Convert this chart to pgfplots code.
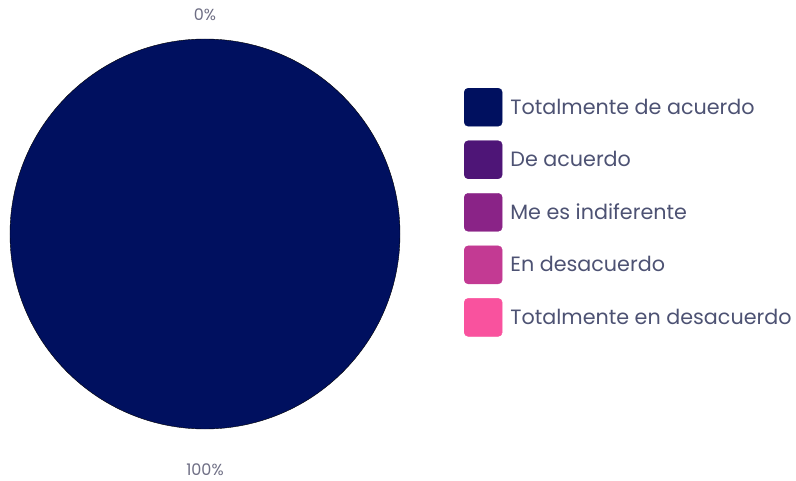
\documentclass[border=0pt]{standalone}
\usepackage{pgfplots}
\pgfplotsset{compat=1.18}
\usepackage{fontspec}
\setmainfont{Poppins}
\definecolor{c1}{HTML}{00105F}
\definecolor{c2}{HTML}{4E1577}
\definecolor{c3}{HTML}{8A2387}
\definecolor{c4}{HTML}{C33A93}
\definecolor{c5}{HTML}{F9529E}
\definecolor{txt}{HTML}{4D5273}
\definecolor{lbl}{HTML}{6E6E84}
\pgfplotsset{
  boxlegend/.style={legend image code/.code={
    \fill[#1,rounded corners=4bp] (0bp,-19bp) rectangle (38bp,19bp);}}
}
\begin{document}
\begin{tikzpicture}
\path (0,0) rectangle (796bp,481bp);
\begin{axis}[
  at={(0,0)}, anchor=origin,
  x=1bp, y=1bp, xmin=0, xmax=796, ymin=0, ymax=481,
  scale only axis, hide axis, clip=false,
  legend style={draw=none, fill=none, at={(axis cs:464,393)}, anchor=north west,
    font=\fontsize{20.7bp}{24bp}\selectfont\color{txt},
    row sep=14.15bp, inner sep=0pt, outer sep=0pt,
    nodes={inner sep=0pt, outer sep=0pt}},
  legend cell align=left,
]
% single slice: 100%
\addplot[forget plot, only marks, mark=*, mark size=195bp, mark options={draw=none, fill=c1}]
  coordinates {(205,247)};
\node[font=\fontsize{16bp}{18bp}\selectfont, text=lbl, inner sep=0pt] at (axis cs:205,466) {0\%};
\node[font=\fontsize{16bp}{18bp}\selectfont, text=lbl, inner sep=0pt] at (axis cs:205,11) {100\%};
\addlegendimage{boxlegend=c1}
\addlegendentry{\hspace{8bp}Totalmente de acuerdo}
\addlegendimage{boxlegend=c2}
\addlegendentry{\hspace{8bp}De acuerdo}
\addlegendimage{boxlegend=c3}
\addlegendentry{\hspace{8bp}Me es indiferente}
\addlegendimage{boxlegend=c4}
\addlegendentry{\hspace{8bp}En desacuerdo}
\addlegendimage{boxlegend=c5}
\addlegendentry{\hspace{8bp}Totalmente en desacuerdo}
\end{axis}
\end{tikzpicture}
\end{document}
